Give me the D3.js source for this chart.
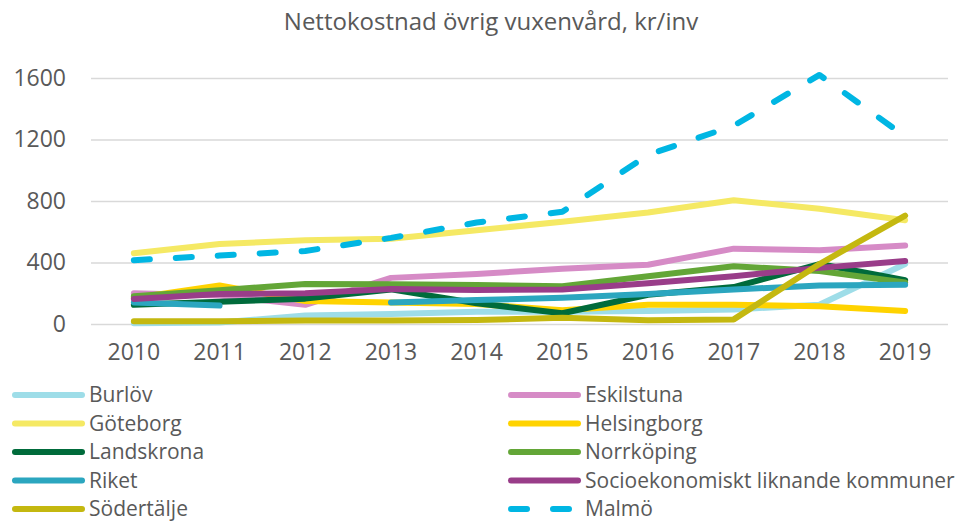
<!DOCTYPE html>
<html>
<head>
<meta charset="utf-8">
<script src="https://cdn.jsdelivr.net/npm/d3@7"></script>
<style>
  body { margin: 0; background: #fff; }
  text { font-family: "Open Sans", sans-serif; fill: #595959; }
</style>
</head>
<body>
<svg width="968" height="522"></svg>
<script>
(function () {

    // chart data
    var years = ["2010", "2011", "2012", "2013", "2014", "2015", "2016", "2017", "2018", "2019"];
    var yTicks = [0, 400, 800, 1200, 1600];

    var burlov      = [5, 10, 55, 65, 80, 80, 85, 95, 125, 390];
    var eskilstuna  = [200, 185, 125, 300, 325, 360, 385, 490, 480, 510];
    var goteborg    = [460, 520, 545, 555, 610, 665, 725, 805, 750, 675];
    var helsingborg = [170, 250, 150, 140, 130, 90, 125, 125, 115, 85];
    var landskrona  = [125, 145, 165, 225, 135, 70, 190, 240, 390, 285];
    var norrkoping  = [180, 220, 260, 258, 253, 245, 310, 375, 345, 270];
    var riket       = [140, 120, null, 140, 156, 170, 195, 225, 250, 255];
    var socio       = [163, 195, 200, 227, 221, 225, 265, 310, 365, 410];
    var sodertalje  = [18, 18, 22, 22, 26, 40, 25, 30, 390, 705];
    var malmo       = [415, 445, 475, 560, 660, 730, 1100, 1290, 1620, 1220];

    var series = [
        {name: "Burlöv", values: burlov, color: "#9edde8"},
        {name: "Eskilstuna", values: eskilstuna, color: "#d68bc6"},
        {name: "Göteborg", values: goteborg, color: "#f5e964"},
        {name: "Helsingborg", values: helsingborg, color: "#ffd300"},
        {name: "Landskrona", values: landskrona, color: "#006b3b"},
        {name: "Norrköping", values: norrkoping, color: "#63a637"},
        {name: "Riket", values: riket, color: "#2ba6bf"},
        {name: "Socioekonomiskt liknande kommuner", values: socio, color: "#993d89"},
        {name: "Södertälje", values: sodertalje, color: "#c4b810"},
        {name: "Malmö", values: malmo, color: "#00b6e3", dashed: true}
    ];

    var svg = d3.select("svg");

    var x = d3.scaleBand().domain(years).range([91, 948]);
    var y = d3.scaleLinear().domain([0, 1600]).range([324, 78]);

    svg.append("text")
        .attr("x", 491)
        .attr("y", 30)
        .attr("text-anchor", "middle")
        .attr("font-size", "24px")
        .text("Nettokostnad övrig vuxenvård, kr/inv");

    // gridlines + y labels
    var yAxis = svg.append("g")
        .attr("transform", "translate(91,0)")
        .call(d3.axisLeft(y).tickValues(yTicks).tickSize(-857).tickPadding(25).tickFormat(d3.format("d")));
    yAxis.select(".domain").remove();
    yAxis.selectAll("line").attr("stroke", "#d9d9d9").attr("stroke-width", 1.5);
    yAxis.selectAll("text")
        .attr("font-size", "23px")
        .attr("font-family", "Open Sans, sans-serif")
        .attr("fill", "#595959");

    var xAxis = svg.append("g")
        .attr("transform", "translate(0,324)")
        .call(d3.axisBottom(x).tickSize(0).tickPadding(20));
    xAxis.select(".domain").remove();
    xAxis.selectAll("text")
        .attr("font-size", "23px")
        .attr("font-family", "Open Sans, sans-serif")
        .attr("fill", "#595959");

    var line = d3.line()
        .defined(function (d) { return d != null; })
        .x(function (d, i) { return x(years[i]) + x.bandwidth() / 2; })
        .y(function (d) { return y(d); });

    svg.selectAll(".series")
        .data(series)
        .enter().append("path")
        .attr("class", "series")
        .attr("d", function (d) { return line(d.values); })
        .attr("fill", "none")
        .attr("stroke", function (d) { return d.color; })
        .attr("stroke-width", 6)
        .attr("stroke-linejoin", "round")
        .attr("stroke-linecap", "round")
        .attr("stroke-dasharray", function (d) { return d.dashed ? "16,26" : null; });

    // legend, two columns
    var legend = svg.selectAll(".legend")
        .data(series)
        .enter().append("g")
        .attr("class", "legend")
        .attr("transform", function (d, i) {
            var col = i % 2, row = Math.floor(i / 2);
            return "translate(" + (col ? 508 : 12) + "," + (395 + row * 28.5) + ")";
        });

    legend.append("line")
        .attr("x1", 3).attr("x2", 70)
        .attr("y1", 0).attr("y2", 0)
        .attr("stroke", function (d) { return d.color; })
        .attr("stroke-width", 6)
        .attr("stroke-linecap", "round")
        .attr("stroke-dasharray", function (d) { return d.dashed ? "16,26" : null; });

    legend.append("text")
        .attr("x", 77)
        .attr("y", 0)
        .attr("dy", "0.35em")
        .attr("font-size", "21px")
        .text(function (d) { return d.name; });

})();
</script>
</body>
</html>
